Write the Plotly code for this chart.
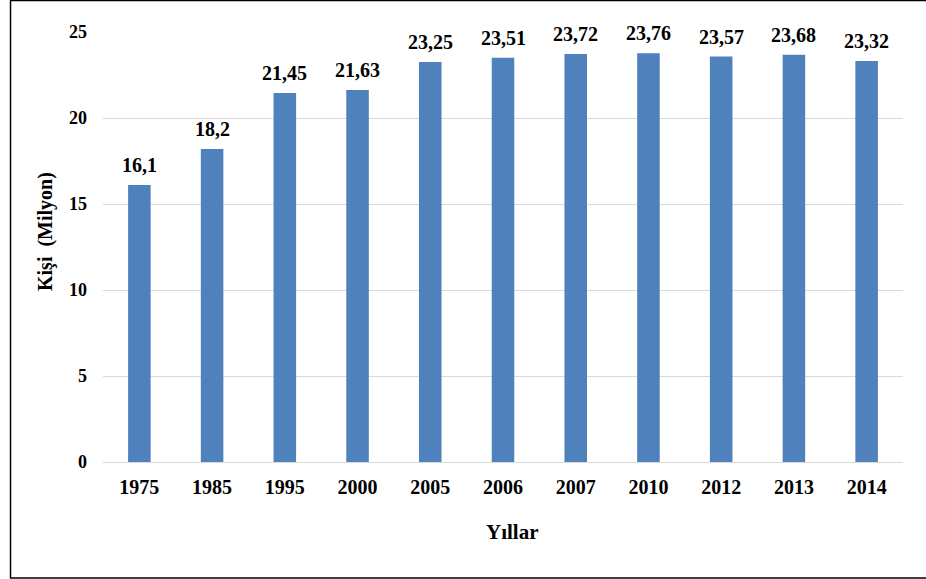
import plotly.graph_objects as go

years = ["1975", "1985", "1995", "2000", "2005", "2006", "2007", "2010", "2012", "2013", "2014"]
values = [16.1, 18.2, 21.45, 21.63, 23.25, 23.51, 23.72, 23.76, 23.57, 23.68, 23.32]
y_ticks = [0, 5, 10, 15, 20, 25]

FONT = "Liberation Serif, Times New Roman, serif"

fig = go.Figure()
fig.add_trace(go.Bar(
    x=years, y=values, marker=dict(color="#4F81BD", line=dict(width=0)),
    width=0.31,
))

for i, v in enumerate(values):
    fig.add_annotation(
        x=i, y=v, text="<b>" + str(v).replace(".", ",") + "</b>",
        showarrow=False, yanchor="bottom", yshift=7,
        font=dict(family=FONT, size=20, color="#000000"),
    )

# axis titles
fig.add_annotation(xref="paper", yref="paper", x=(512 - 103) / 800, y=(462 - 532) / 430,
                   text="<b>Yıllar</b>", showarrow=False, xanchor="center", yanchor="middle",
                   font=dict(family=FONT, size=21, color="#000000"))
fig.add_annotation(xref="paper", yref="paper", x=(45 - 103) / 800, y=(462 - 232) / 430,
                   text="<b>Kişi  (Milyon)</b>", showarrow=False, xanchor="center", yanchor="middle",
                   textangle=-90, font=dict(family=FONT, size=20, color="#000000"))

fig.add_shape(type="rect", xref="paper", yref="paper",
              x0=-0.1156, x1=1.06, y0=-0.2698, y1=1.073,
              line=dict(color="#000000", width=1.5), fillcolor="rgba(0,0,0,0)")

fig.update_layout(
    width=926, height=579,
    margin=dict(l=103, r=23, t=32, b=117),
    paper_bgcolor="white", plot_bgcolor="white",
    showlegend=False,
    font=dict(family=FONT, color="#000000"),
    xaxis=dict(
        type="category", range=[-0.5, len(years) - 0.5], showgrid=False, showline=False, ticks="",
        tickfont=dict(family=FONT, size=20, color="#000000", weight="bold"),
        ticklabelstandoff=11,
    ),
    yaxis=dict(
        range=[0, 25], tickvals=y_ticks, showgrid=True, gridcolor="#D9D9D9", gridwidth=1,
        zeroline=True, zerolinecolor="#D9D9D9", zerolinewidth=1, showline=False, ticks="",
        tickfont=dict(family=FONT, size=18, color="#000000", weight="bold"),
        ticklabelstandoff=15,
    ),
)

fig.write_html("out.html", config={"displayModeBar": False},
               post_script="document.body.style.margin='0';document.body.style.overflow='hidden';")
